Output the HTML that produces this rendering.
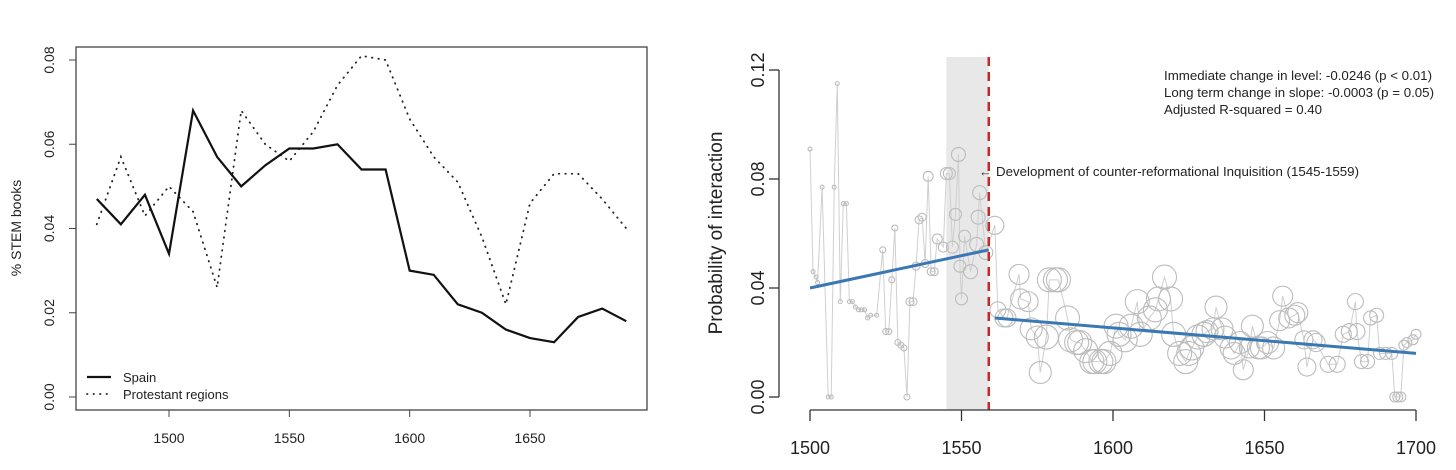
<!DOCTYPE html>
<html><head><meta charset="utf-8"><style>
html,body{margin:0;padding:0;background:#fff;}
svg{display:block;font-family:"Liberation Sans",sans-serif;}
</style></head><body>
<svg id="c" width="1456" height="470" viewBox="0 0 1456 470">
<g id="left"></g>
<g id="right"></g>
</svg>
<script>
// ---- Left chart data ----
const leftYears = [1470,1480,1490,1500,1510,1520,1530,1540,1550,1560,1570,1580,1590,1600,1610,1620,1630,1640,1650,1660,1670,1680,1690];
const spainValues = [0.047,0.041,0.048,0.034,0.068,0.057,0.050,0.055,0.059,0.059,0.060,0.054,0.054,0.030,0.029,0.022,0.020,0.016,0.014,0.013,0.019,0.021,0.018];
const protestantValues = [0.041,0.057,0.043,0.050,0.044,0.026,0.068,0.060,0.056,0.063,0.074,0.081,0.080,0.066,0.057,0.051,0.038,0.022,0.046,0.053,0.053,0.047,0.040];
const leftXTicks = [1500,1550,1600,1650];
const leftYTicks = [0,0.02,0.04,0.06,0.08];
const leftYTickLabels = ["0.00","0.02","0.04","0.06","0.08"];

// ---- Right chart data ----
const rYears = [1500,1501,1502,1502.5,1504,1506,1507,1508,1509,1510,1511,1512,1513,1514,1515,1516,1517,1518,1519,1520,1522,1524,1525,1526,1527,1528,1529,1530,1531,1532,1533,1534,1535,1536,1537,1538,1539,1540,1541,1542,1544,1545,1546,1547,1548,1549,1549.5,1550,1551,1553,1555,1555.5,1556,1558,
1561,1562,1564,1565,1569,1569.5,1572,1573,1575,1576,1578,1579,1581,1582,1585,1586,1588,1589,1591,1593,1594,1596,1597,1599,1601,1602,1604,1606,1608,1609,1612,1614,1615,1617,1619,1620,1622,1624,1625,1626,1628,1630,1631,1633,1634,1636,1637,1639,1640,1642,1643,1645,1646,1648,1649,1651,1653,1655,1656,1658,1660,1661,1663,1664,1666,1667,1671,1674,1676,1678,1680,1680.5,1682,1684,1685,1687,1688,1690,1692,1693,1694,1695,1696,1697,1699,1700];
const rValues = [0.091,0.046,0.044,0.042,0.077,0.000,0.000,0.077,0.115,0.035,0.071,0.071,0.035,0.035,0.033,0.032,0.032,0.032,0.029,0.030,0.030,0.054,0.024,0.024,0.043,0.062,0.020,0.019,0.018,0.000,0.035,0.035,0.048,0.065,0.066,0.049,0.081,0.046,0.046,0.058,0.055,0.082,0.082,0.055,0.067,0.089,0.048,0.036,0.059,0.046,0.056,0.066,0.075,0.053,
0.063,0.032,0.029,0.029,0.045,0.036,0.035,0.025,0.022,0.009,0.022,0.043,0.043,0.043,0.029,0.021,0.020,0.020,0.017,0.013,0.013,0.013,0.013,0.016,0.026,0.023,0.021,0.026,0.035,0.023,0.029,0.032,0.036,0.044,0.036,0.023,0.016,0.013,0.016,0.018,0.022,0.023,0.024,0.025,0.033,0.025,0.022,0.018,0.016,0.020,0.010,0.018,0.026,0.018,0.018,0.020,0.018,0.028,0.037,0.029,0.030,0.031,0.021,0.011,0.021,0.020,0.012,0.012,0.023,0.024,0.035,0.024,0.013,0.013,0.029,0.030,0.016,0.016,0.016,0.000,0.000,0.000,0.019,0.020,0.021,0.023];
const rSizes = [2,2,2,2,2,2,2,2,2,2,2,2,2,2,2,2,2,2,2,2,2,3,3,3,3,3,3,3,3,3,4,4,4,4,4,4,5,4,4,5,5,6,6,6,6,7,6,6,6,7,7,7,7,7,
9,8,9,9,10,10,10,11,11,11,12,12,12,12,12,12,12,12,12,12,12,12,12,12,12,12,12,12,12,12,12,12,12,12,12,12,12,12,12,12,12,12,11,11,11,11,11,11,11,11,10,10,11,11,11,11,11,10,10,10,10,10,9,9,9,9,8,8,8,8,8,8,7,7,7,7,6,6,6,5,5,5,5,5,5,5];
const rXTicks = [1500,1550,1600,1650,1700];
const rYTicks = [0,0.04,0.08,0.12];
const rYTickLabels = ["0.00","0.04","0.08","0.12"];
const fitPre = [[1500,0.040],[1559,0.054]];
const fitPost = [[1561,0.029],[1700,0.016]];
const shadeStart = 1545, shadeEnd = 1559, cutYear = 1559;

const NS = "http://www.w3.org/2000/svg";
function mk(parent, tag, attrs, text){
  const e = document.createElementNS(NS, tag);
  for (const k in attrs) e.setAttribute(k, attrs[k]);
  if (text !== undefined) e.textContent = text;
  parent.appendChild(e);
  return e;
}

// ===== Left chart =====
const L = document.getElementById('left');
const lx = y => 169 + (y - 1500) * (530 - 169) / 150;
const ly = v => 397 - v * (397 - 60) / 0.08;
let el;
el = mk(L,'rect',{x:76,y:47,width:571,height:363,fill:'none',stroke:'#444','stroke-width':1.3});


leftXTicks.forEach(t=>{
  el = mk(L,'line',{x1:lx(t),x2:lx(t),y1:410,y2:417,stroke:'#444'});
  
  
  el = mk(L,'text',{x:lx(t),y:443,'text-anchor':'middle','font-size':14,fill:'#222'},String(t));
  
  
});
leftYTicks.forEach((t,i)=>{
  el = mk(L,'line',{x1:69,x2:76,y1:ly(t),y2:ly(t),stroke:'#444'});
  
  
  el = mk(L,'text',{x:0,y:0,'text-anchor':'middle','font-size':14,fill:'#222',transform:`translate(54,${ly(t)}) rotate(-90)`},leftYTickLabels[i]);
  
  
});
el = mk(L,'text',{x:0,y:0,'text-anchor':'middle','font-size':14,fill:'#222',transform:'translate(21,228) rotate(-90)'},'% STEM books');


el = mk(L,'polyline',{points:leftYears.map((y,i)=>lx(y)+','+ly(protestantValues[i])).join(' '),fill:'none',stroke:'#222','stroke-width':1.8,'stroke-dasharray':'0.5 6','stroke-linecap':'round'});


el = mk(L,'polyline',{points:leftYears.map((y,i)=>lx(y)+','+ly(spainValues[i])).join(' '),fill:'none',stroke:'#111','stroke-width':2.2});


el = mk(L,'line',{x1:87,x2:111,y1:377,y2:377,stroke:'#111','stroke-width':2.2});


el = mk(L,'text',{x:123,y:382,'font-size':13,fill:'#222'},'Spain');


el = mk(L,'line',{x1:87,x2:111,y1:394,y2:394,stroke:'#222','stroke-width':1.8,'stroke-dasharray':'0.5 6','stroke-linecap':'round'});


el = mk(L,'text',{x:123,y:399,'font-size':13,fill:'#222'},'Protestant regions');



// ===== Right chart =====
const R = document.getElementById('right');
const rx = y => 810 + (y - 1500) * (1416 - 810) / 200;
const ry = v => 397 - v * (397 - 70) / 0.12;
el = mk(R,'rect',{x:rx(shadeStart),y:57,width:rx(shadeEnd)-rx(shadeStart),height:353,fill:'#e8e8e8'});


el = mk(R,'polyline',{points:rYears.map((y,i)=>rx(y)+','+ry(rValues[i])).join(' '),fill:'none',stroke:'#cfcfcf','stroke-width':1});


rYears.forEach((y,i)=>{
  el = mk(R,'circle',{cx:rx(y),cy:ry(rValues[i]),r:rSizes[i],fill:'none',stroke:'#bcbcbc','stroke-width':1.1});
  
  
});
el = mk(R,'line',{x1:rx(cutYear),x2:rx(cutYear),y1:57,y2:410,stroke:'#c62828','stroke-width':2.5,'stroke-dasharray':'9 6'});


el = mk(R,'line',{x1:rx(fitPre[0][0]),y1:ry(fitPre[0][1]),x2:rx(fitPre[1][0]),y2:ry(fitPre[1][1]),stroke:'#3a78b4','stroke-width':3});


el = mk(R,'line',{x1:rx(fitPost[0][0]),y1:ry(fitPost[0][1]),x2:rx(fitPost[1][0]),y2:ry(fitPost[1][1]),stroke:'#3a78b4','stroke-width':3});


el = mk(R,'line',{x1:779,x2:779,y1:ry(0),y2:ry(0.12),stroke:'#333','stroke-width':1.3});


rYTicks.forEach((t,i)=>{
  el = mk(R,'line',{x1:769,x2:779,y1:ry(t),y2:ry(t),stroke:'#333','stroke-width':1.3});
  
  
  el = mk(R,'text',{x:0,y:0,'text-anchor':'middle','font-size':18,fill:'#222',transform:`translate(764,${ry(t)}) rotate(-90)`},rYTickLabels[i]);
  
  
});
el = mk(R,'line',{x1:rx(1500),x2:rx(1700),y1:410,y2:410,stroke:'#333','stroke-width':1.3});


rXTicks.forEach(t=>{
  el = mk(R,'line',{x1:rx(t),x2:rx(t),y1:410,y2:421,stroke:'#333','stroke-width':1.3});
  
  
  el = mk(R,'text',{x:rx(t),y:454,'text-anchor':'middle','font-size':18,fill:'#222'},String(t));
  
  
});
el = mk(R,'text',{x:0,y:0,'text-anchor':'middle','font-size':19,fill:'#222',transform:'translate(722,233) rotate(-90)'},'Probability of interaction');


const notes = ['Immediate change in level: -0.0246 (p < 0.01)','Long term change in slope: -0.0003 (p = 0.05)','Adjusted R-squared = 0.40'];
const noteLens = [268,270,158];
notes.forEach((n,i)=>{
  el = mk(R,'text',{x:1164,y:80+i*17,'font-size':13,fill:'#222',textLength:noteLens[i],lengthAdjust:'spacingAndGlyphs'},n);
  
  
});
el = mk(R,'text',{x:979,y:176,'font-size':13,fill:'#333'},'←');


el = mk(R,'text',{x:996,y:176,'font-size':13,fill:'#222',textLength:363,lengthAdjust:'spacingAndGlyphs'},'Development of counter-reformational Inquisition (1545-1559)');


</script>
</body></html>
